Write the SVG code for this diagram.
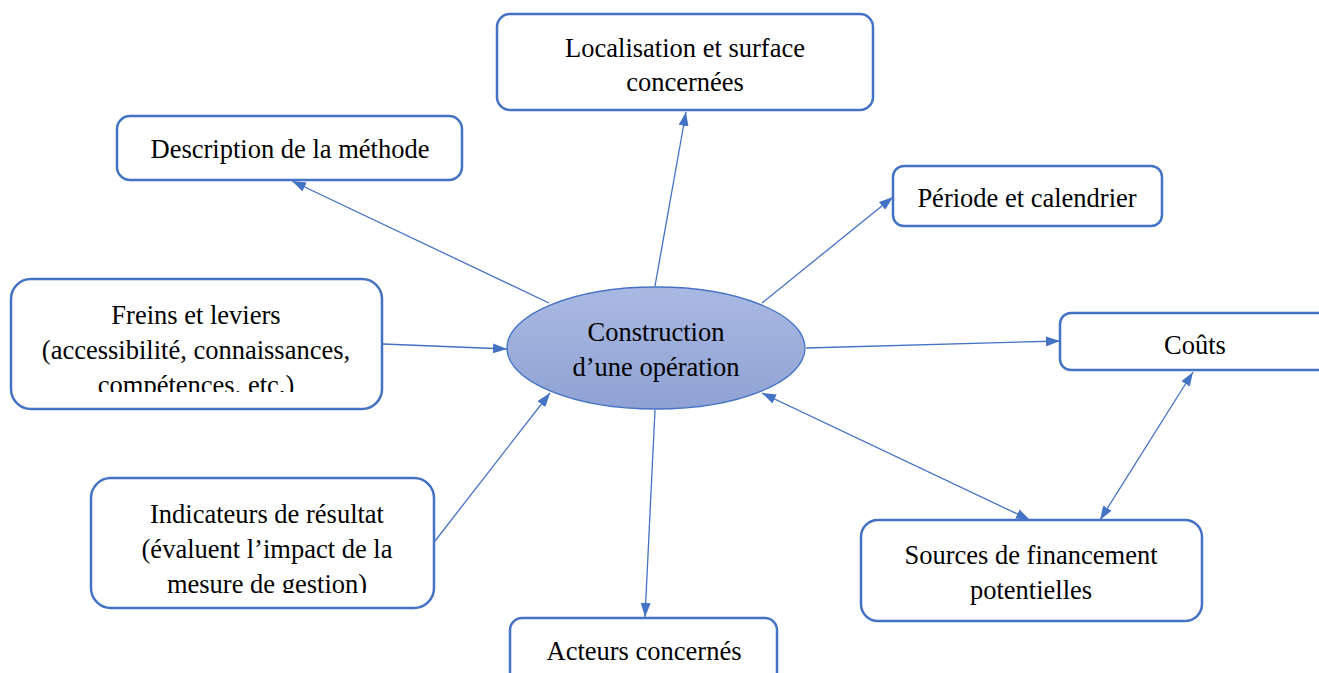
<svg xmlns="http://www.w3.org/2000/svg" width="1319" height="673" viewBox="0 0 1319 673" font-family="Liberation Serif, Times New Roman, serif">
<style>
.box{fill:#fff;stroke:#4472C4;stroke-width:2.5}
.t{font-family:'Liberation Serif','Times New Roman',serif;font-size:26.5px;fill:#000;text-anchor:middle}
.c{stroke:#4472C4;stroke-width:1.3;fill:none}
</style>
<defs>
<marker id="ah" viewBox="0 0 14 10" refX="14" refY="5" markerWidth="14" markerHeight="10" markerUnits="userSpaceOnUse" orient="auto-start-reverse">
<path d="M0,0 L14,5 L0,10 Z" fill="#4472C4"/>
</marker>
<linearGradient id="eg" x1="0" y1="0" x2="0" y2="1">
<stop offset="0" stop-color="#AAB9E2"/>
<stop offset="1" stop-color="#8FA2D4"/>
</linearGradient>
<clipPath id="cf"><rect x="0" y="270" width="400" height="122"/></clipPath>
<clipPath id="ci"><rect x="80" y="470" width="370" height="123"/></clipPath>
</defs>
<rect width="1319" height="673" fill="#fff"/>
<g id="connectors">
<line class="c" x1="655" y1="286" x2="686" y2="112" marker-end="url(#ah)"/>
<line class="c" x1="549" y1="303" x2="292" y2="181" marker-end="url(#ah)"/>
<line class="c" x1="762" y1="303" x2="893" y2="197" marker-end="url(#ah)"/>
<line class="c" x1="383" y1="344" x2="507" y2="349" marker-end="url(#ah)"/>
<line class="c" x1="806" y1="348" x2="1060" y2="341" marker-end="url(#ah)"/>
<line class="c" x1="435" y1="541" x2="550" y2="393" marker-end="url(#ah)"/>
<line class="c" x1="655" y1="410" x2="645" y2="617" marker-end="url(#ah)"/>
<line class="c" x1="762" y1="393" x2="1030" y2="520" marker-start="url(#ah)" marker-end="url(#ah)"/>
<line class="c" x1="1193" y1="372" x2="1100" y2="520" marker-start="url(#ah)" marker-end="url(#ah)"/>
</g>
<g id="center">
<ellipse cx="656" cy="348" rx="149" ry="61" fill="url(#eg)" stroke="#4472C4" stroke-width="1.3"/>
<text class="t" x="656" y="341">Construction</text>
<text class="t" x="656" y="376">d’une opération</text>
</g>
<g id="localisation">
<rect class="box" x="497" y="14" width="376" height="96" rx="13"/>
<text class="t" x="685" y="57">Localisation et surface</text>
<text class="t" x="685" y="91">concernées</text>
</g>
<g id="description">
<rect class="box" x="117" y="116" width="345" height="64" rx="13"/>
<text class="t" x="290" y="158">Description de la méthode</text>
</g>
<g id="periode">
<rect class="box" x="893" y="166" width="269" height="60" rx="11"/>
<text class="t" x="1027" y="207">Période et calendrier</text>
</g>
<g id="freins">
<rect class="box" x="11" y="279" width="371" height="130" rx="20"/>
<g clip-path="url(#cf)">
<text class="t" x="196" y="324">Freins et leviers</text>
<text class="t" x="196" y="359">(accessibilité, connaissances,</text>
<text class="t" x="196" y="394">compétences, etc.)</text>
</g>
</g>
<g id="couts">
<rect class="box" x="1060" y="313" width="290" height="57" rx="11"/>
<text class="t" x="1195" y="354">Coûts</text>
</g>
<g id="indicateurs">
<rect class="box" x="91" y="478" width="343" height="130" rx="20"/>
<g clip-path="url(#ci)">
<text class="t" x="267" y="523">Indicateurs de résultat</text>
<text class="t" x="267" y="558">(évaluent l’impact de la</text>
<text class="t" x="267" y="593">mesure de gestion)</text>
</g>
</g>
<g id="sources">
<rect class="box" x="861" y="520" width="341" height="101" rx="17"/>
<text class="t" x="1031" y="564">Sources de financement</text>
<text class="t" x="1031" y="599">potentielles</text>
</g>
<g id="acteurs">
<rect class="box" x="510" y="618" width="267" height="80" rx="12"/>
<text class="t" x="644" y="660">Acteurs concernés</text>
</g>
</svg>
